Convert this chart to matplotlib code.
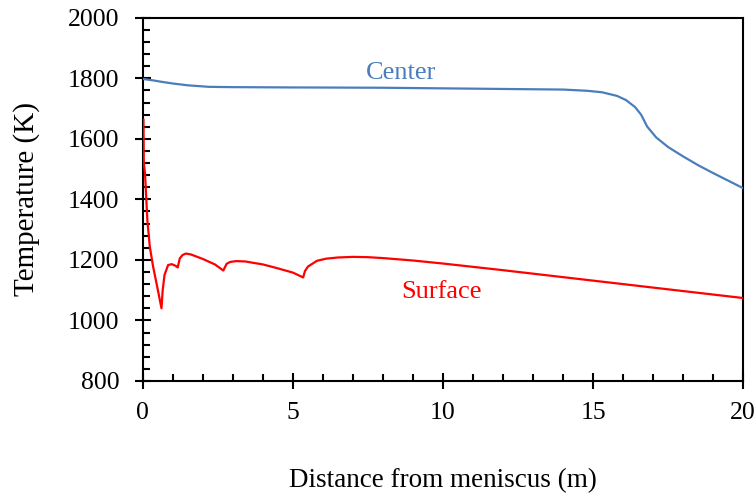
import numpy as np
import matplotlib.pyplot as plt
from matplotlib.ticker import MultipleLocator

plt.rcParams['font.family'] = ['Liberation Serif', 'DejaVu Serif']

# center temperature along the strand
x_center = [0, 0.3, 0.6, 1.0, 1.5, 2.2, 3, 5, 8, 10, 12, 14, 14.8, 15.3, 15.8,
            16.1, 16.4, 16.6, 16.8, 17.1, 17.5, 18, 18.5, 19, 19.5, 20]
t_center = [1798, 1794, 1789, 1783, 1777, 1772, 1771, 1770, 1769, 1767, 1765, 1763,
            1759, 1754, 1742, 1728, 1705, 1680, 1641, 1605, 1573, 1542, 1513, 1487,
            1462, 1437]

# surface temperature
x_surface = [0.02, 0.03, 0.07, 0.15, 0.23, 0.34, 0.48, 0.62, 0.66, 0.72, 0.84, 0.96,
             1.1, 1.16, 1.23, 1.32, 1.43, 1.6, 2.0, 2.4, 2.68, 2.79, 2.9, 3.1, 3.4,
             4.0, 4.5, 5.0, 5.34, 5.4, 5.5, 5.8, 6.1, 6.5, 7.0, 7.5, 8, 9, 10, 12,
             14, 16, 18, 20]
t_surface = [1663, 1520, 1487, 1330, 1244, 1178, 1110, 1040, 1100, 1150, 1183, 1186,
             1180, 1175, 1205, 1216, 1221, 1218, 1203, 1185, 1165, 1187, 1193, 1196,
             1195, 1185, 1172, 1158, 1142, 1163, 1178, 1197, 1204, 1208, 1210, 1209,
             1206, 1198, 1188, 1166, 1143, 1120, 1097, 1074]

fig = plt.figure(figsize=(7.56, 4.96), dpi=100)
ax = fig.add_axes([0.189, 0.232, 0.794, 0.732])

ax.plot(x_center, t_center, color='#4a7ebb', lw=1.6, zorder=3)
ax.plot(x_surface, t_surface, color='#ff0000', lw=1.6, zorder=3)

ax.text(8.6, 1782, 'Center', color='#4a7ebb', fontsize=19, ha='center', va='bottom')
ax.text(9.95, 1058, 'Surface', color='#ff0000', fontsize=19, ha='center', va='bottom')

ax.set_xlim(0, 20)
ax.set_ylim(800, 2000)
ax.xaxis.set_major_locator(MultipleLocator(5))
ax.xaxis.set_minor_locator(MultipleLocator(1))
ax.yaxis.set_major_locator(MultipleLocator(200))
ax.yaxis.set_minor_locator(MultipleLocator(40))
ax.tick_params(which='major', direction='inout', length=12, width=1.5, labelsize=18.5)
ax.tick_params(axis='y', which='major', pad=11)
ax.tick_params(axis='x', which='major', pad=9)
ax.tick_params(which='minor', direction='in', length=5, width=1.5)
for s in ax.spines.values():
    s.set_linewidth(1.5)

ax.set_xlabel('Distance from meniscus (m)', fontsize=19.5, labelpad=32)
ax.set_ylabel('Temperature (K)', fontsize=21, labelpad=20)

plt.savefig('out.png', dpi=100)
